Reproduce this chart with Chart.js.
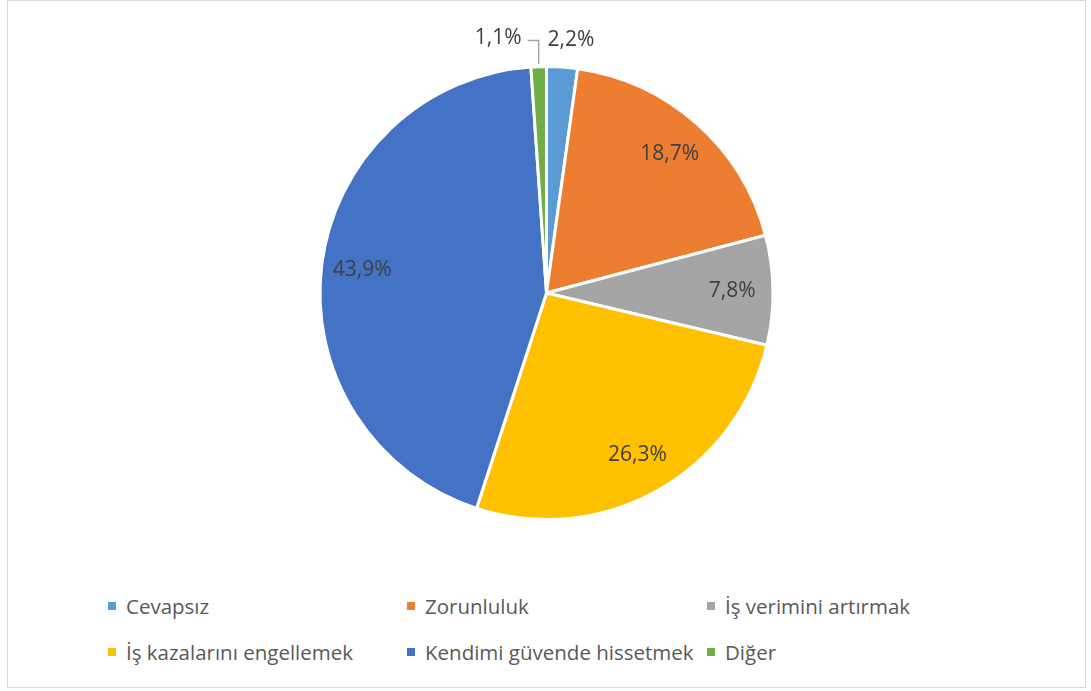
<!DOCTYPE html>
<html>
<head>
<meta charset="utf-8">
<script src="https://cdn.jsdelivr.net/npm/chart.js@4.4.1/dist/chart.umd.min.js"></script>
<style>
  body { margin: 0; background: #fff; font-family: "Open Sans", "Noto Sans", sans-serif; }
  #frame {
    position: absolute; left: 7px; top: 0px; width: 1077px; height: 686px;
    border: 1px solid #d9d9d9; background: #fff;
  }
  #chartBox { position: absolute; left: 0; top: 0; width: 1077px; height: 584px; }
  #legend {
    position: absolute; left: 100px; top: 593px; width: 920px;
    display: grid; grid-template-columns: 299px 300px 299px; row-gap: 22px;
    font-size: 20.5px; color: #595959;
  }
  .item { display: flex; align-items: center; height: 24px; white-space: nowrap; }
  .mark { width: 8px; height: 8px; margin-right: 10px; flex: none; }
</style>
</head>
<body>
<div id="frame">
  <div id="chartBox"><canvas id="pie"></canvas></div>
  <div id="legend"></div>
</div>
<script>
// Chart data
const categories = ['Cevapsız', 'Zorunluluk', 'İş verimini artırmak', 'İş kazalarını engellemek', 'Kendimi güvende hissetmek', 'Diğer'];
const shares = [2.2, 18.7, 7.8, 26.3, 43.9, 1.1];
const sliceColors = ['#5B9BD5', '#ED7D31', '#A5A5A5', '#FFC000', '#4472C4', '#70AD47'];

function formatShare(v) {
    return v.toFixed(1).replace('.', ',') + '%';
}

// Draws the percentage labels; small slices get theirs above the pie
const pieLabels = {
    id: 'pieLabels',
    afterDatasetsDraw(chart) {
        const ctx = chart.ctx;
        const arcs = chart.getDatasetMeta(0).data;
        ctx.save();
        ctx.font = '21px "Open Sans", "Noto Sans", sans-serif';
        ctx.fillStyle = '#404040';
        ctx.textBaseline = 'middle';
        arcs.forEach((arc, i) => {
            const p = arc.getProps(['x', 'y', 'startAngle', 'endAngle', 'outerRadius']);
            const mid = (p.startAngle + p.endAngle) / 2;
            const text = formatShare(shares[i]);
            if (shares[i] >= 5) {
                const r = p.outerRadius * 0.82;
                ctx.textAlign = 'center';
                ctx.fillText(text, p.x + Math.cos(mid) * r, p.y + Math.sin(mid) * r);
                return;
            }
            // outside label, above the top of the pie
            const ax = p.x + Math.cos(mid) * p.outerRadius;
            const ay = p.y + Math.sin(mid) * p.outerRadius;
            const ly = p.y - p.outerRadius - 26;
            if (ax >= p.x) {
                ctx.textAlign = 'left';
                ctx.fillText(text, p.x + 1, ly);
            } else {
                // leader line from the slice edge up and to the left
                ctx.strokeStyle = '#a6a6a6';
                ctx.lineWidth = 1.5;
                ctx.beginPath();
                ctx.moveTo(ax, ay - 3);
                ctx.lineTo(ax, ly);
                ctx.lineTo(ax - 11, ly);
                ctx.stroke();
                ctx.textAlign = 'right';
                ctx.fillText(text, ax - 17, ly - 2);
            }
        });
        ctx.restore();
    }
};

new Chart(document.getElementById('pie').getContext('2d'), {
    type: 'pie',
    data: {
        labels: categories,
        datasets: [{
            data: shares,
            backgroundColor: sliceColors,
            borderColor: '#ffffff',
            borderWidth: 3
        }]
    },
    options: {
        responsive: true,
        maintainAspectRatio: false,
        animation: false,
        layout: { padding: { top: 64, bottom: 64 } },
        plugins: {
            legend: { display: false },
            tooltip: { enabled: false }
        }
    },
    plugins: [pieLabels]
});

// HTML legend in three fixed columns, like the original
const legendBox = document.getElementById('legend');
categories.forEach((name, i) => {
    const item = document.createElement('div');
    item.className = 'item';
    const mark = document.createElement('span');
    mark.className = 'mark';
    mark.style.background = sliceColors[i];
    item.appendChild(mark);
    item.appendChild(document.createTextNode(name));
    legendBox.appendChild(item);
});
</script>
</body>
</html>
